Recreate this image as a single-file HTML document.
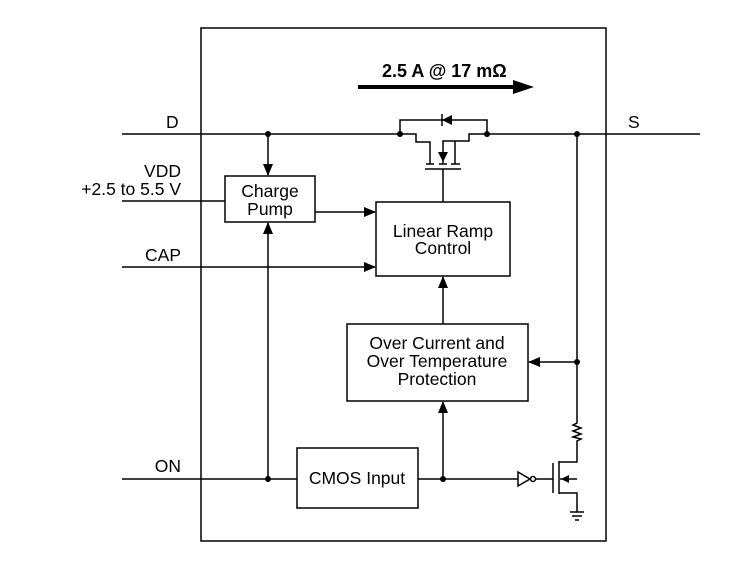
<!DOCTYPE html>
<html><head><meta charset="utf-8"><style>
html,body{margin:0;padding:0;background:#fff;}
svg{display:block;}
text{font-family:"Liberation Sans",Arial,sans-serif;font-size:17.5px;fill:#000;}
</style></head><body>
<svg width="746" height="582" viewBox="0 0 746 582" xmlns="http://www.w3.org/2000/svg">
<defs>
<marker id="a" markerWidth="12" markerHeight="10" refX="11" refY="5" orient="auto" markerUnits="userSpaceOnUse">
<path d="M0,0 L12,5 L0,10 Z" fill="#000"/></marker>
</defs>
<g stroke="#000" stroke-width="1.5" fill="none">
<rect x="201" y="28" width="405" height="513"/>
<line x1="122" y1="134" x2="400" y2="134"/>
<line x1="487" y1="134" x2="700" y2="134"/>
<polyline points="400,134 400,120 487,120 487,134"/>
<polyline points="400,134 416,134 416,142 430,142 430,164"/>
<polyline points="487,134 469,134 469,141 443,141 443,164"/>
<line x1="455" y1="141" x2="455" y2="164"/>
<line x1="426" y1="164" x2="434" y2="164"/>
<line x1="439" y1="164" x2="447" y2="164"/>
<line x1="451" y1="164" x2="460" y2="164"/>
<line x1="425" y1="169" x2="461" y2="169"/>
<line x1="443" y1="169" x2="443" y2="202"/>
<line x1="442" y1="114" x2="442" y2="126"/>
<rect x="225" y="176" width="90" height="46"/>
<line x1="268" y1="134" x2="268" y2="175" marker-end="url(#a)"/>
<line x1="122" y1="201" x2="225" y2="201"/>
<line x1="315" y1="212" x2="375" y2="212" marker-end="url(#a)"/>
<line x1="122" y1="267" x2="375" y2="267" marker-end="url(#a)"/>
<rect x="376" y="202" width="134" height="74"/>
<line x1="268" y1="479" x2="268" y2="223" marker-end="url(#a)"/>
<rect x="347" y="324" width="181" height="77"/>
<line x1="443" y1="324" x2="443" y2="277" marker-end="url(#a)"/>
<line x1="443" y1="479" x2="443" y2="402" marker-end="url(#a)"/>
<line x1="577" y1="134" x2="577" y2="420"/>
<line x1="577" y1="362" x2="529" y2="362" marker-end="url(#a)"/>
<polyline points="577,420 577,423 573,425 581,428 573,431 581,434 573,437 581,439 577,441 577,462 559,462"/>
<rect x="297" y="448" width="121" height="60"/>
<line x1="122" y1="479" x2="297" y2="479"/>
<line x1="418" y1="479" x2="518" y2="479"/>
<polygon points="518,472 530,479 518,486"/>
<circle cx="533" cy="479" r="2.5"/>
<line x1="536" y1="479" x2="553" y2="479"/>
<line x1="553" y1="463" x2="553" y2="493"/>
<line x1="559" y1="461" x2="559" y2="494"/>
<polyline points="559,493 577,493 577,512"/>
<line x1="577" y1="479" x2="560" y2="479"/>
<line x1="570" y1="512" x2="584" y2="512"/>
<line x1="572" y1="516" x2="582" y2="516"/>
<line x1="575" y1="520" x2="579" y2="520"/>
</g>
<polygon points="452,115 442,120 452,125" fill="#000"/>
<polygon points="438,152 443,162 448,152" fill="#000"/>
<polygon points="561,479 569,475 569,483" fill="#000"/>
<g fill="#000">
<circle cx="400" cy="134" r="3"/><circle cx="487" cy="134" r="3"/>
<circle cx="268" cy="134" r="3"/><circle cx="577" cy="134" r="3"/>
<circle cx="577" cy="362" r="3"/><circle cx="268" cy="479" r="3"/>
<circle cx="443" cy="479" r="3"/>
</g>
<line x1="358" y1="87" x2="515" y2="87" stroke="#000" stroke-width="4"/>
<polygon points="513,80 534,87 513,94" fill="#000"/>
<text x="382" y="77" style="font-weight:bold;font-size:18px">2.5 A @ 17 mΩ</text>
<text x="166" y="128">D</text>
<text x="628" y="128">S</text>
<text x="181" y="177" text-anchor="end">VDD</text>
<text x="181" y="195" text-anchor="end">+2.5 to 5.5 V</text>
<text x="181" y="261" text-anchor="end">CAP</text>
<text x="181" y="472" text-anchor="end">ON</text>
<text x="270" y="197" text-anchor="middle">Charge</text>
<text x="270" y="215" text-anchor="middle">Pump</text>
<text x="443" y="237" text-anchor="middle">Linear Ramp</text>
<text x="443" y="254" text-anchor="middle">Control</text>
<text x="437" y="349" text-anchor="middle">Over Current and</text>
<text x="437" y="367" text-anchor="middle">Over Temperature</text>
<text x="437" y="385" text-anchor="middle">Protection</text>
<text x="357" y="484" text-anchor="middle">CMOS Input</text>
</svg>
</body></html>
